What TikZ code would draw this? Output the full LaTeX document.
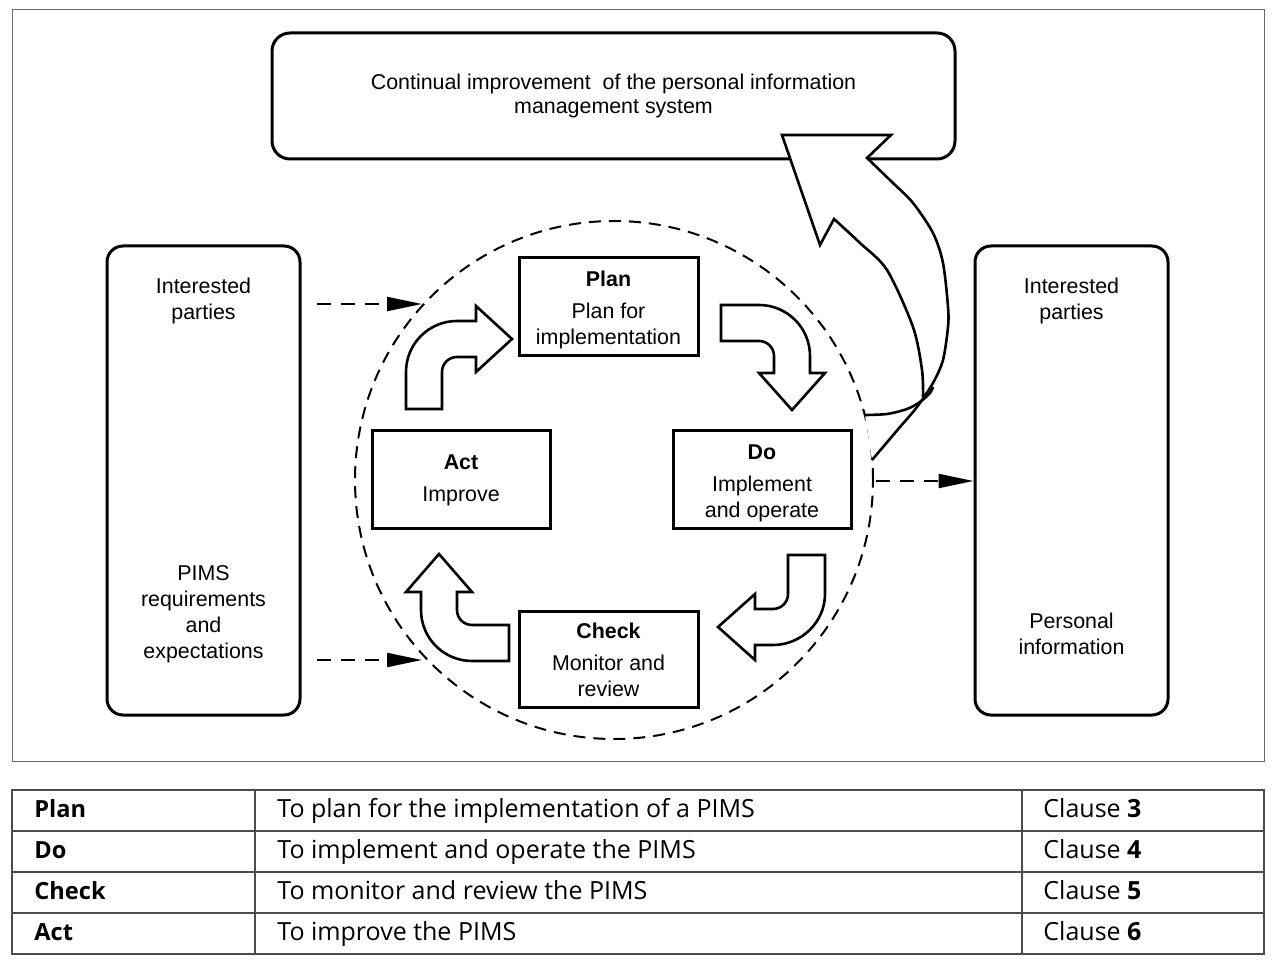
\documentclass[tikz,border=0pt]{standalone}
\usepackage{fontspec}
\setmainfont{Liberation Sans}
\newfontfamily\tabfont{Open Sans}
\usetikzlibrary{arrows.meta}
\begin{document}
\begin{tikzpicture}[x=0.5pt,y=-0.5pt,
  dfont/.style={font=\fontsize{10.7}{13}\selectfont},
  box/.style={draw, line width=1.5pt, fill=white, inner sep=0pt, align=center, dfont},
  rbox/.style={box, rounded corners=8pt},
  lbl/.style={align=center, inner sep=0pt, dfont},
  dasharr/.style={line width=1.1pt, dash pattern=on 7pt off 5pt, -{Triangle[length=17.5pt,width=7pt]}},
  blockarr/.style={draw, line width=1.3pt, fill=white, line join=miter},
  bigline/.style={line width=1.3pt, line join=miter},
  tline/.style={draw=black!70, line width=0.8pt},
  tcell/.style={anchor=base west, inner sep=0pt, font=\tabfont\fontsize{12.5}{14}\selectfont},
  tbold/.style={tcell, font=\tabfont\bfseries\fontsize{11.8}{14}\selectfont}
]
\useasboundingbox (0,0) rectangle (1280,972);
\fill[white] (0,0) rectangle (1280,972);
% outer frame
\draw[draw=black!60, line width=0.5pt] (12,10) rectangle (1264,761);
% dashed circle
\node[draw, circle, line width=1pt, dash pattern=on 6pt off 4pt, minimum size=259pt, inner sep=0pt] (circ) at (614,480) {};
% top box
\node[rbox, rounded corners=9pt, minimum width=341.5pt, minimum height=63pt, font=\fontsize{10.7}{12}\selectfont] (top) at (613.5,96)
  {Continual improvement \ of the personal information\\management system};
% side boxes
\node[rbox, minimum width=96.5pt, minimum height=234.5pt] (lbox) at (203.5,480.5) {};
\node[rbox, minimum width=96.5pt, minimum height=234.5pt] (rbox) at (1071.5,480.5) {};
\node[lbl] (lt) at (203.5,301) {Interested\\parties};
\node[lbl] (lb) at (203.5,614) {PIMS\\requirements\\and\\expectations};
\node[lbl] (rt) at (1071.5,301) {Interested\\parties};
\node[lbl] (rb) at (1071.5,634) {Personal\\information};
% PDCA boxes
\node[box, minimum width=89.5pt, minimum height=49pt] (plan) at (608.5,307) {};
\node[lbl] (plant) at ([yshift=-1.5pt]plan.center) {\textbf{Plan}\\[3pt]Plan for\\implementation};
\node[box, minimum width=89pt, minimum height=49pt] (do) at (762,480) {};
\node[lbl] (dot) at ([yshift=-1.5pt]do.center) {\textbf{Do}\\[3pt]Implement\\and operate};
\node[box, minimum width=89pt, minimum height=49pt] (act) at (461,480) {\textbf{Act}\\[3pt]Improve};
\node[box, minimum width=89.5pt, minimum height=48pt] (check) at (608.5,660) {\textbf{Check}\\[3pt]Monitor and\\review};
% big curved arrow
\path[fill=white] (782,135) -- (891,135) -- (867,158)
  -- plot[smooth] coordinates {(867,158) (893,183) (913,203) (933,233) (943,263) (948,307) (948,327) (943,360) (933,383) (917,407) (900,427) (872,460)}
  -- (865,415)
  -- plot[smooth] coordinates {(865,415) (887,414) (907,409) (920,402) (930,393) (932,388)}
  -- (923,397)
  -- plot[smooth] coordinates {(923,397) (922,370) (913,327) (887,270) (860,243) (834,219)}
  -- (820,245) -- cycle;
\draw[bigline] plot[smooth] coordinates {(923,397) (922,370) (913,327) (887,270) (860,243) (834,219)}
  -- (820,245) -- (782,135) -- (891,135) -- (867,158)
  -- plot[smooth] coordinates {(867,158) (893,183) (913,203) (933,233) (943,263) (948,307) (948,327) (943,360) (933,383) (917,407) (900,427) (872,460)};
\draw[bigline] plot[smooth] coordinates {(865,415) (887,414) (907,409) (920,402) (930,393) (933,387)};
% block arrows
\path[blockarr] (406,409) -- (406,372) .. controls (406,343.8) and (428.8,321) .. (457,321)
  -- (476,321) -- (476,306) -- (512,339) -- (476,372) -- (476,357) -- (457,357)
  .. controls (448.7,357) and (442,363.7) .. (442,372) -- (442,409) -- cycle;
\path[blockarr] (721,305) -- (759,305) .. controls (787.2,305) and (810,327.8) .. (810,356)
  -- (810,373) -- (825,373) -- (792,410) -- (759,373) -- (774,373) -- (774,356)
  .. controls (774,347.7) and (767.3,341) .. (759,341) -- (721,341) -- cycle;
\path[blockarr] (788,555) -- (825,555) -- (825,594) .. controls (825,622.2) and (801.2,645) .. (773,645)
  -- (755,645) -- (755,660) -- (718,627) -- (755,594) -- (755,609) -- (773,609)
  .. controls (781.3,609) and (788,602.3) .. (788,594) -- cycle;
\path[blockarr] (509,625) -- (509,661) -- (472,661) .. controls (443.8,661) and (421,638.2) .. (421,610)
  -- (421,592) -- (406,592) -- (439,554) -- (472,592) -- (457,592) -- (457,610)
  .. controls (457,618.3) and (463.7,625) .. (472,625) -- cycle;
% dashed arrows
\coordinate (a1s) at (317,304);
\coordinate (a1e) at (422,304);
\coordinate (a2s) at (317,660);
\coordinate (a2e) at (422,660);
\coordinate (a3s) at (876,481);
\draw[dasharr] (a1s) -- (a1e);
\draw[dasharr] (a2s) -- (a2e);
\draw[dasharr] (a3s) -- (a3s -| rbox.west);
% table
\draw[tline] (12,790) rectangle (1264,954);
\draw[tline] (12,831) -- (1264,831);
\draw[tline] (12,872) -- (1264,872);
\draw[tline] (12,913) -- (1264,913);
\draw[tline] (255,790) -- (255,954);
\draw[tline] (1022,790) -- (1022,954);
\node[tbold] (p1) at (34,817) {Plan};
\node[tcell] (p2) at (277,817) {To plan for the implementation of a PIMS};
\node[tcell] (p3) at (1043,817) {Clause \textbf{3}};
\node[tbold] (d1) at (34,858) {Do};
\node[tcell] (d2) at (277,858) {To implement and operate the PIMS};
\node[tcell] (d3) at (1043,858) {Clause \textbf{4}};
\node[tbold] (c1) at (34,899) {Check};
\node[tcell] (c2) at (277,899) {To monitor and review the PIMS};
\node[tcell] (c3) at (1043,899) {Clause \textbf{5}};
\node[tbold] (x1) at (34,940) {Act};
\node[tcell] (x2) at (277,940) {To improve the PIMS};
\node[tcell] (x3) at (1043,940) {Clause \textbf{6}};
\end{tikzpicture}
\end{document}
